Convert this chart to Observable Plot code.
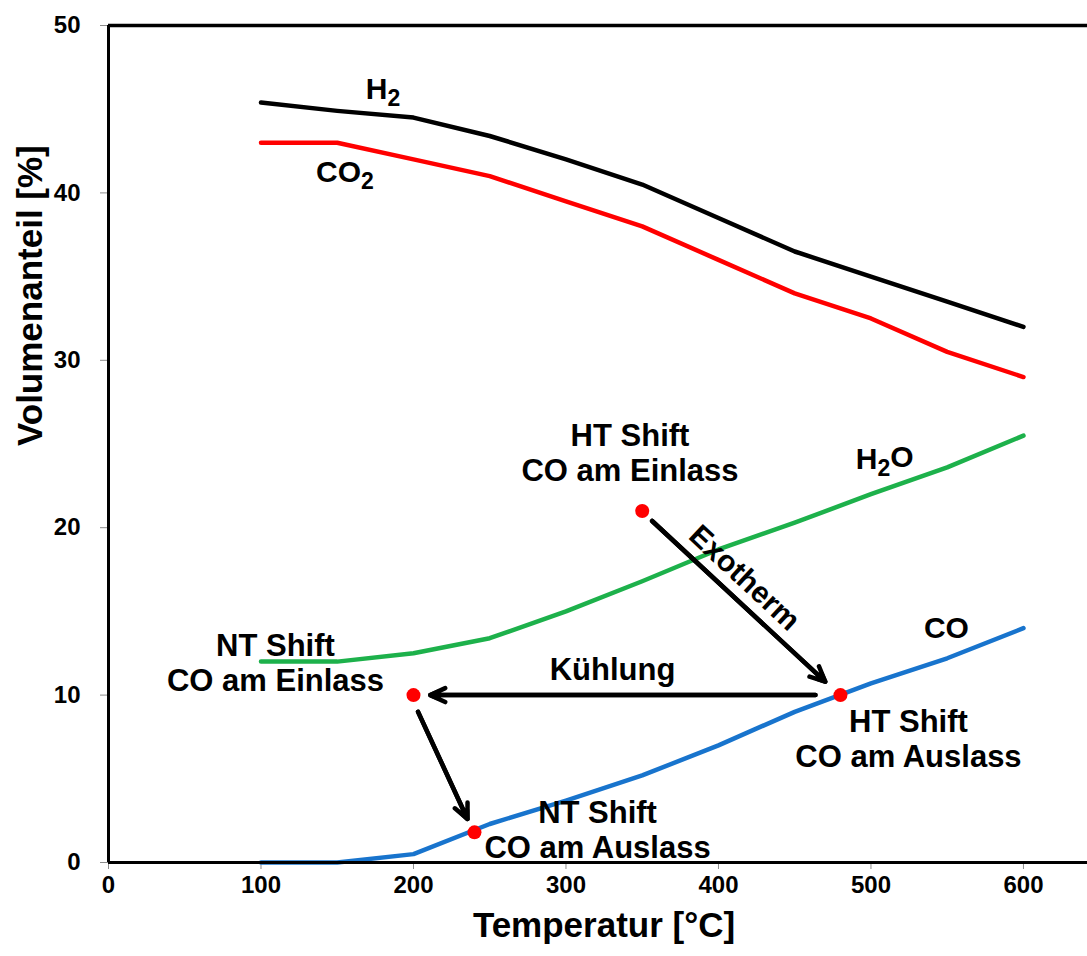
<!DOCTYPE html>
<html>
<head>
<meta charset="utf-8">
<script src="https://cdn.jsdelivr.net/npm/d3@7"></script>
<script src="https://cdn.jsdelivr.net/npm/@observablehq/plot@0.6"></script>
<style>
  html, body { margin: 0; padding: 0; background: #fff; }
  #chart { width: 1087px; height: 956px; }
</style>
</head>
<body>
<div id="chart"></div>
<script>
// ---- data ----
const temps = [100, 150, 200, 250, 300, 350, 400, 450, 500, 550, 600];
const h2  = [45.4, 44.9, 44.5, 43.4, 42.0, 40.5, 38.5, 36.5, 35.0, 33.5, 32.0];
const co2 = [43.0, 43.0, 42.0, 41.0, 39.5, 38.0, 36.0, 34.0, 32.5, 30.5, 29.0];
const h2o = [12.0, 12.0, 12.5, 13.4, 15.0, 16.8, 18.7, 20.3, 22.0, 23.6, 25.5];
const co  = [0.0, 0.0, 0.5, 2.3, 3.7, 5.2, 7.0, 9.0, 10.7, 12.2, 14.0];

const seriesNames  = ["H2", "CO2", "H2O", "CO"];
const seriesColors = ["#000000", "#ff0000", "#1db14b", "#1874cd"];

const xTicks = [0, 100, 200, 300, 400, 500, 600];
const yTicks = [0, 10, 20, 30, 40, 50];

// state points (temperature, CO share)
const pointX = [350, 480, 200, 240];
const pointY = [21, 10, 10, 1.8];

// arrows
const arrowX1 = [356.5, 463.6, 203];
const arrowY1 = [20.4, 10, 9.0];
const arrowX2 = [470, 211, 235.4];
const arrowY2 = [10.8, 10, 2.6];

// labels (base text + subscript part + rest)
const seriesLabelBase = ["H", "CO", "H", "CO"];
const seriesLabelSub  = ["2", "2", "2", ""];
const seriesLabelRest = ["", "", "O", ""];
const seriesLabelX = [180, 155, 509, 549.5];
const seriesLabelY = [46.2, 41.2, 24.1, 14.0];

const annoText = ["HT Shift\nCO am Einlass", "NT Shift\nCO am Einlass", "HT Shift\nCO am Auslass", "NT Shift\nCO am Auslass", "K\u00fchlung"];
const annoX = [342, 109.5, 524.6, 320.7, 330.5];
const annoY = [24.5, 11.95, 7.4, 2.0, 11.6];

const exoText = "Exotherm";
const exoX = 417, exoY = 17.0, exoAngle = 43;

// ---- build tables ----
const lineData = [];
[h2, co2, h2o, co].forEach((vals, i) => {
  temps.forEach((t, j) => lineData.push({series: seriesNames[i], t, v: vals[j]}));
});
const points = pointX.map((x, i) => ({x, y: pointY[i]}));
const arrows = arrowX1.map((x1, i) => ({x1, y1: arrowY1[i], x2: arrowX2[i], y2: arrowY2[i]}));
const seriesLabels = seriesLabelBase.map((b, i) => ({
  text: b + seriesLabelSub[i] + seriesLabelRest[i], base: b, sub: seriesLabelSub[i], rest: seriesLabelRest[i],
  x: seriesLabelX[i], y: seriesLabelY[i]
}));
const annos = annoText.map((text, i) => ({text, x: annoX[i], y: annoY[i]}));

const font = "'Liberation Sans', Arial, sans-serif";

const chart = Plot.plot({
  width: 1087,
  height: 956,
  marginLeft: 108,
  marginRight: 0,
  marginTop: 25,
  marginBottom: 94,
  style: {fontFamily: font, fontWeight: "bold", fontSize: "24px", background: "#fff", color: "#000", overflow: "visible"},
  x: {domain: [0, 642], ticks: xTicks},
  y: {domain: [0, 50], ticks: yTicks},
  color: {domain: seriesNames, range: seriesColors},
  marks: [
    Plot.axisX({ticks: xTicks, tickSize: 7, tickPadding: 6, label: null, stroke: "#8c8c8c", fill: "#000", fontSize: 24, fontWeight: "bold"}),
    Plot.axisY({ticks: yTicks, tickSize: 8, tickPadding: 20, label: null, stroke: "#8c8c8c", fill: "#000", fontSize: 24, fontWeight: "bold"}),
    Plot.ruleY([50], {stroke: "#000", strokeWidth: 3.5}),
    Plot.line(lineData, {x: "t", y: "v", z: "series", stroke: "series", strokeWidth: 4.5, curve: "linear"}),
    Plot.ruleY([0], {stroke: "#000", strokeWidth: 3}),
    Plot.ruleX([0], {stroke: "#000", strokeWidth: 3}),
    Plot.arrow(arrows, {x1: "x1", y1: "y1", x2: "x2", y2: "y2", stroke: "#000", strokeWidth: 4.5, headLength: 5.5, headAngle: 50, bend: 0}),
    Plot.arrow(arrows, {x1: "x1", y1: "y1", x2: "x2", y2: "y2", stroke: "#000", strokeWidth: 4.5, headLength: 3, headAngle: 45, bend: 0}),
    Plot.dot(points, {x: "x", y: "y", r: 7, fill: "#ff0000", stroke: "none"}),
    Plot.text(seriesLabels, {x: "x", y: "y", text: "text", fontSize: 30, fontWeight: "bold", fill: "#000", className: "serieslabel"}),
    Plot.text(annos, {x: "x", y: "y", text: "text", fontSize: 31, fontWeight: "bold", fill: "#000", lineHeight: 1.13}),
    Plot.text([exoText], {x: exoX, y: exoY, text: d => d, rotate: exoAngle, fontSize: 30, fontWeight: "bold", fill: "#000"}),
    Plot.text(["Temperatur [\u00b0C]"], {frameAnchor: "bottom", text: d => d, dx: 6, dy: 74, fontSize: 35, fontWeight: "bold", fill: "#000"}),
    Plot.text(["Volumenanteil [%]"], {frameAnchor: "left", text: d => d, rotate: -90, dx: -78, dy: 2, fontSize: 35, fontWeight: "bold", fill: "#000"})
  ]
});

// render subscripts for the chemical formula labels
d3.select(chart).selectAll("g.serieslabel text").each(function(_, i) {
  const el = d3.select(this);
  const idx = +this.__data__;
  const d = seriesLabels[isNaN(idx) ? i : idx];
  if (!d || !d.sub) return;
  el.text(null);
  el.append("tspan").text(d.base);
  el.append("tspan").attr("dy", "0.3em").attr("font-size", "23px").text(d.sub);
  if (d.rest) el.append("tspan").attr("dy", "-0.3em").text(d.rest);
});

document.getElementById("chart").appendChild(chart);
</script>
</body>
</html>
